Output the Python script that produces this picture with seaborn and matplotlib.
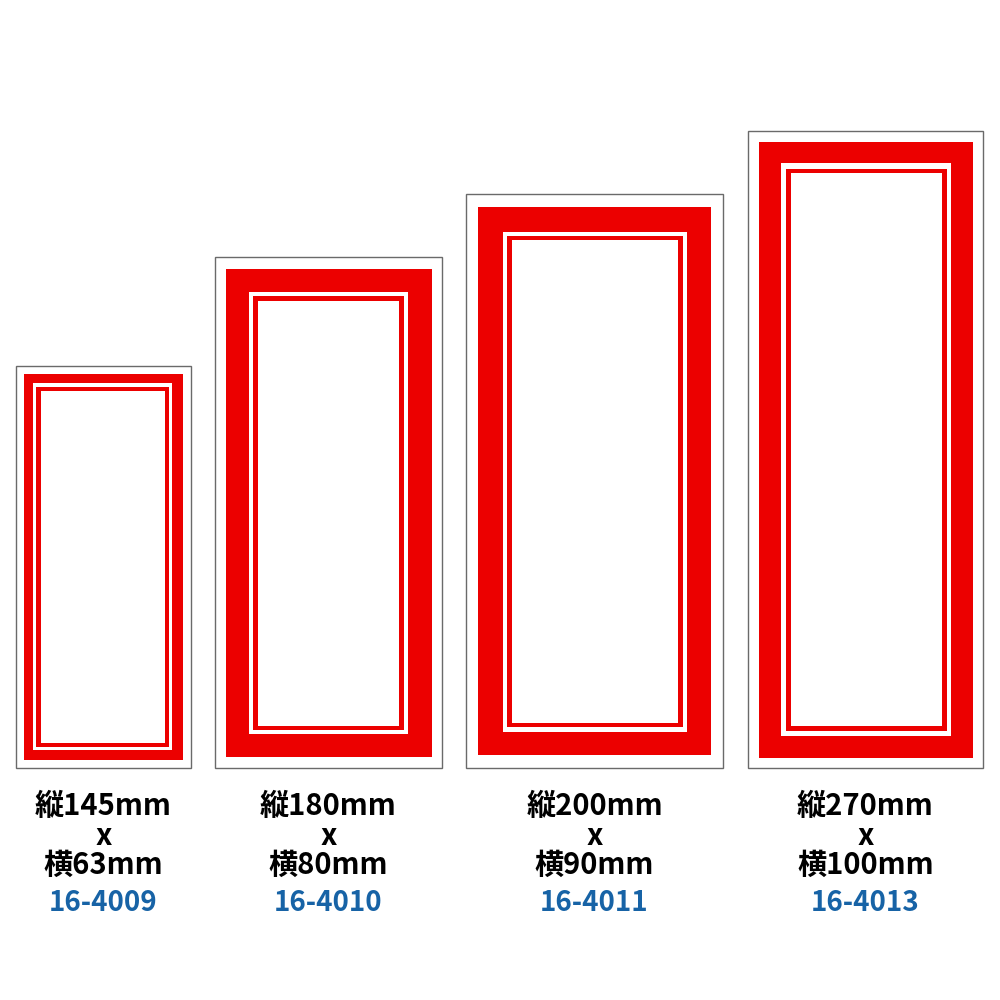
import matplotlib
matplotlib.use("Agg")
import matplotlib.pyplot as plt
from matplotlib.patches import Rectangle
import seaborn as sns

# ---- data ----
heights_mm = [145, 180, 200, 270]
widths_mm = [63, 80, 90, 100]
codes = ["16-4009", "16-4010", "16-4011", "16-4013"]

# ---- layout (pixel space, y downward) : (left, top, right, bottom) ----
frame_box = [(16, 366, 191, 768), (215, 257, 442, 768), (466, 194, 723, 768), (748, 131, 983, 768)]
red_box   = [(24, 374, 183, 760), (226, 269, 432, 757), (478, 207, 711, 755), (759, 142, 973, 758)]
gap_box   = [(33, 383, 172, 750), (249, 292, 408, 734), (503, 232, 687, 732), (781, 163, 951, 736)]
thin_box  = [(36, 387, 169, 747), (253, 296, 404, 730), (507, 236, 683, 727), (786, 169, 947, 731)]
inner_box = [(41, 391, 165, 743), (258, 301, 399, 726), (512, 240, 678, 723), (791, 173, 942, 726)]

RED = "#ec0000"
BLUE = "#1763a6"

sns.set_theme(style="white")
plt.rcParams["font.family"] = ["Noto Sans CJK JP", "DejaVu Sans"]

fig = plt.figure(figsize=(10, 10), dpi=100)
ax = fig.add_axes([0, 0, 1, 1])
ax.set_xlim(0, 1000)
ax.set_ylim(1000, 0)
ax.axis("off")


def rect(box, **kw):
    l, t, r, b = box
    ax.add_patch(Rectangle((l, t), r - l, b - t, **kw))


for i in range(len(heights_mm)):
    rect(frame_box[i], facecolor="white", edgecolor="#6a6a6a", linewidth=1.0)
    rect(red_box[i], facecolor=RED, edgecolor="none")
    rect(gap_box[i], facecolor="white", edgecolor="none")
    rect(thin_box[i], facecolor=RED, edgecolor="none")
    rect(inner_box[i], facecolor="white", edgecolor="none")

    cx = (frame_box[i][0] + frame_box[i][2]) / 2
    ax.text(cx, 806, f"縦{heights_mm[i]}mm", ha="center", va="center",
            fontsize=21, fontweight="bold", color="black")
    ax.text(cx, 836, "x", ha="center", va="center",
            fontsize=21, fontweight="bold", color="black")
    ax.text(cx, 865, f"横{widths_mm[i]}mm", ha="center", va="center",
            fontsize=21, fontweight="bold", color="black")
    ax.text(cx, 903, codes[i], ha="center", va="center",
            fontsize=20, fontweight="bold", color=BLUE)

fig.savefig("out.png", dpi=100, facecolor="white")
